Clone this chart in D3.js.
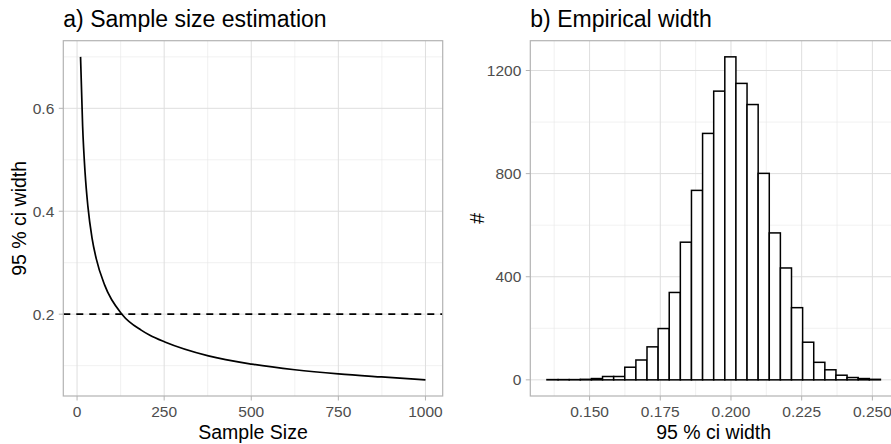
<!DOCTYPE html>
<html>
<head>
<meta charset="utf-8">
<script src="https://cdn.jsdelivr.net/npm/d3@7"></script>
<style>
  body { margin: 0; background: #fff; }
  svg { display: block; font-family: "Liberation Sans", Arial, sans-serif; }
  .grid-major { stroke: #DEDEDE; stroke-width: 1; }
  .grid-minor { stroke: #E8E8E8; stroke-width: 0.6; }
  .tick-lbl { fill: #4D4D4D; font-size: 15.5px; }
  .axis-title { fill: #000; font-size: 19.5px; }
  .plot-title { fill: #000; font-size: 23px; }
</style>
</head>
<body>
<div id="chart"></div>
<script>
// a) sample size vs 95 % ci width (read off the curve)
const sampleSize = [10, 16, 23, 31, 43, 55, 79, 130, 184, 209, 252, 377, 501, 625, 750, 874, 1000];
const ciWidth = [0.700, 0.565, 0.475, 0.410, 0.348, 0.308, 0.257, 0.199, 0.169, 0.159, 0.146, 0.119, 0.103, 0.092, 0.084, 0.078, 0.0724];
const targetWidth = 0.2;
const sizeTicks = [0, 250, 500, 750, 1000];
const sizeMinor = [125, 375, 625, 875];
const widthTicks = [0.2, 0.4, 0.6];
const widthMinor = [0.1, 0.3, 0.5, 0.7];

// b) histogram of empirical widths, 30 bins
const binStart = 0.13494;
const binWidth = 0.00393;
const binCounts = [1, 1, 1, 2, 5, 13, 13, 49, 77, 128, 199, 339, 534, 735, 956,
                   1120, 1253, 1150, 1068, 801, 570, 434, 280, 146, 68, 39, 18, 9, 5, 2];
const empTicks = [0.150, 0.175, 0.200, 0.225, 0.250];
const empMinor = [0.1375, 0.1625, 0.1875, 0.2125, 0.2375, 0.2625];
const countTicks = [0, 400, 800, 1200];
const countMinor = [200, 600, 1000];

const W = 891, H = 444;
const svg = d3.select('#chart').append('svg').attr('width', W).attr('height', H);

function expand(lo, hi) {
    const pad = (hi - lo) * 0.05;
    return [lo - pad, hi + pad];
}

function drawPanel(opt) {
    const g = svg.append('g');
    const x = opt.x, y = opt.y;
    const [x0, x1] = x.range();
    const [y0, y1] = y.range();

    g.append('rect').attr('x', x0).attr('y', y1).attr('width', x1 - x0).attr('height', y0 - y1)
        .attr('fill', '#fff');

    g.selectAll('.vminor').data(opt.xMinor).join('line').attr('class', 'grid-minor')
        .attr('x1', d => x(d)).attr('x2', d => x(d)).attr('y1', y0).attr('y2', y1);
    g.selectAll('.hminor').data(opt.yMinor).join('line').attr('class', 'grid-minor')
        .attr('y1', d => y(d)).attr('y2', d => y(d)).attr('x1', x0).attr('x2', x1);
    g.selectAll('.vmajor').data(opt.xTicks).join('line').attr('class', 'grid-major')
        .attr('x1', d => x(d)).attr('x2', d => x(d)).attr('y1', y0).attr('y2', y1);
    g.selectAll('.hmajor').data(opt.yTicks).join('line').attr('class', 'grid-major')
        .attr('y1', d => y(d)).attr('y2', d => y(d)).attr('x1', x0).attr('x2', x1);

    opt.marks(g);

    g.append('rect').attr('x', x0).attr('y', y1).attr('width', x1 - x0).attr('height', y0 - y1)
        .attr('fill', 'none').attr('stroke', '#B3B3B3').attr('stroke-width', 1.2);

    // ticks
    g.selectAll('.xt').data(opt.xTicks).join('line')
        .attr('x1', d => x(d)).attr('x2', d => x(d)).attr('y1', y0).attr('y2', y0 + 4.5)
        .attr('stroke', '#B3B3B3').attr('stroke-width', 1);
    g.selectAll('.yt').data(opt.yTicks).join('line')
        .attr('y1', d => y(d)).attr('y2', d => y(d)).attr('x1', x0).attr('x2', x0 - 4.5)
        .attr('stroke', '#B3B3B3').attr('stroke-width', 1);

    g.selectAll('.xl').data(opt.xTicks).join('text').attr('class', 'tick-lbl')
        .attr('x', d => x(d)).attr('y', y0 + 21).attr('text-anchor', 'middle')
        .text(opt.xFmt);
    g.selectAll('.yl').data(opt.yTicks).join('text').attr('class', 'tick-lbl')
        .attr('x', x0 - 9).attr('y', d => y(d)).attr('dy', '0.36em').attr('text-anchor', 'end')
        .text(opt.yFmt);

    g.append('text').attr('class', 'axis-title')
        .attr('x', (x0 + Math.min(x1, W + 6)) / 2).attr('y', 438.5)
        .attr('text-anchor', 'middle').text(opt.xTitle);
    g.append('text').attr('class', 'axis-title')
        .attr('transform', `translate(${opt.yTitleX},${(y0 + y1) / 2}) rotate(-90)`)
        .attr('text-anchor', 'middle').text(opt.yTitle);
    g.append('text').attr('class', 'plot-title')
        .attr('x', x0).attr('y', 26.5).text(opt.title);
}

// panel a
const xa = d3.scaleLinear().domain(expand(d3.min(sampleSize), d3.max(sampleSize))).range([63.3, 442.7]);
const ya = d3.scaleLinear().domain(expand(d3.min(ciWidth), d3.max(ciWidth))).range([396, 40.7]);
const curvePts = sampleSize.map((n, i) => [n, ciWidth[i]]);

drawPanel({
    x: xa, y: ya,
    xTicks: sizeTicks, xMinor: sizeMinor, yTicks: widthTicks, yMinor: widthMinor,
    xFmt: d3.format('d'), yFmt: d3.format('.1f'),
    xTitle: 'Sample Size', yTitle: '95 % ci width', yTitleX: 26,
    title: 'a) Sample size estimation',
    marks: g => {
        g.append('path').datum(curvePts)
            .attr('d', d3.line().x(d => xa(d[0])).y(d => ya(d[1])).curve(d3.curveMonotoneX))
            .attr('fill', 'none').attr('stroke', '#000').attr('stroke-width', 1.7);
        g.append('line')
            .attr('x1', xa.range()[0]).attr('x2', xa.range()[1])
            .attr('y1', ya(targetWidth)).attr('y2', ya(targetWidth))
            .attr('stroke', '#000').attr('stroke-width', 1.7).attr('stroke-dasharray', '7,6');
    }
});

// panel b
const binLo = binCounts.map((c, i) => binStart + i * binWidth);
const xb = d3.scaleLinear()
    .domain(expand(binStart, binStart + binCounts.length * binWidth))
    .range([530.3, 530.3 + 0.1297 * 2828]);
const yb = d3.scaleLinear().domain(expand(0, d3.max(binCounts))).range([396, 40.7]);

drawPanel({
    x: xb, y: yb,
    xTicks: empTicks, xMinor: empMinor, yTicks: countTicks, yMinor: countMinor,
    xFmt: d3.format('.3f'), yFmt: d3.format('d'),
    xTitle: '95 % ci width', yTitle: '#', yTitleX: 484,
    title: 'b) Empirical width',
    marks: g => {
        g.selectAll('.bar').data(binCounts).join('rect')
            .attr('x', (d, i) => xb(binLo[i]))
            .attr('width', xb(binStart + binWidth) - xb(binStart))
            .attr('y', d => yb(d))
            .attr('height', d => yb(0) - yb(d))
            .attr('fill', '#fff').attr('stroke', '#000').attr('stroke-width', 1.5);
    }
});
</script>
</body>
</html>
